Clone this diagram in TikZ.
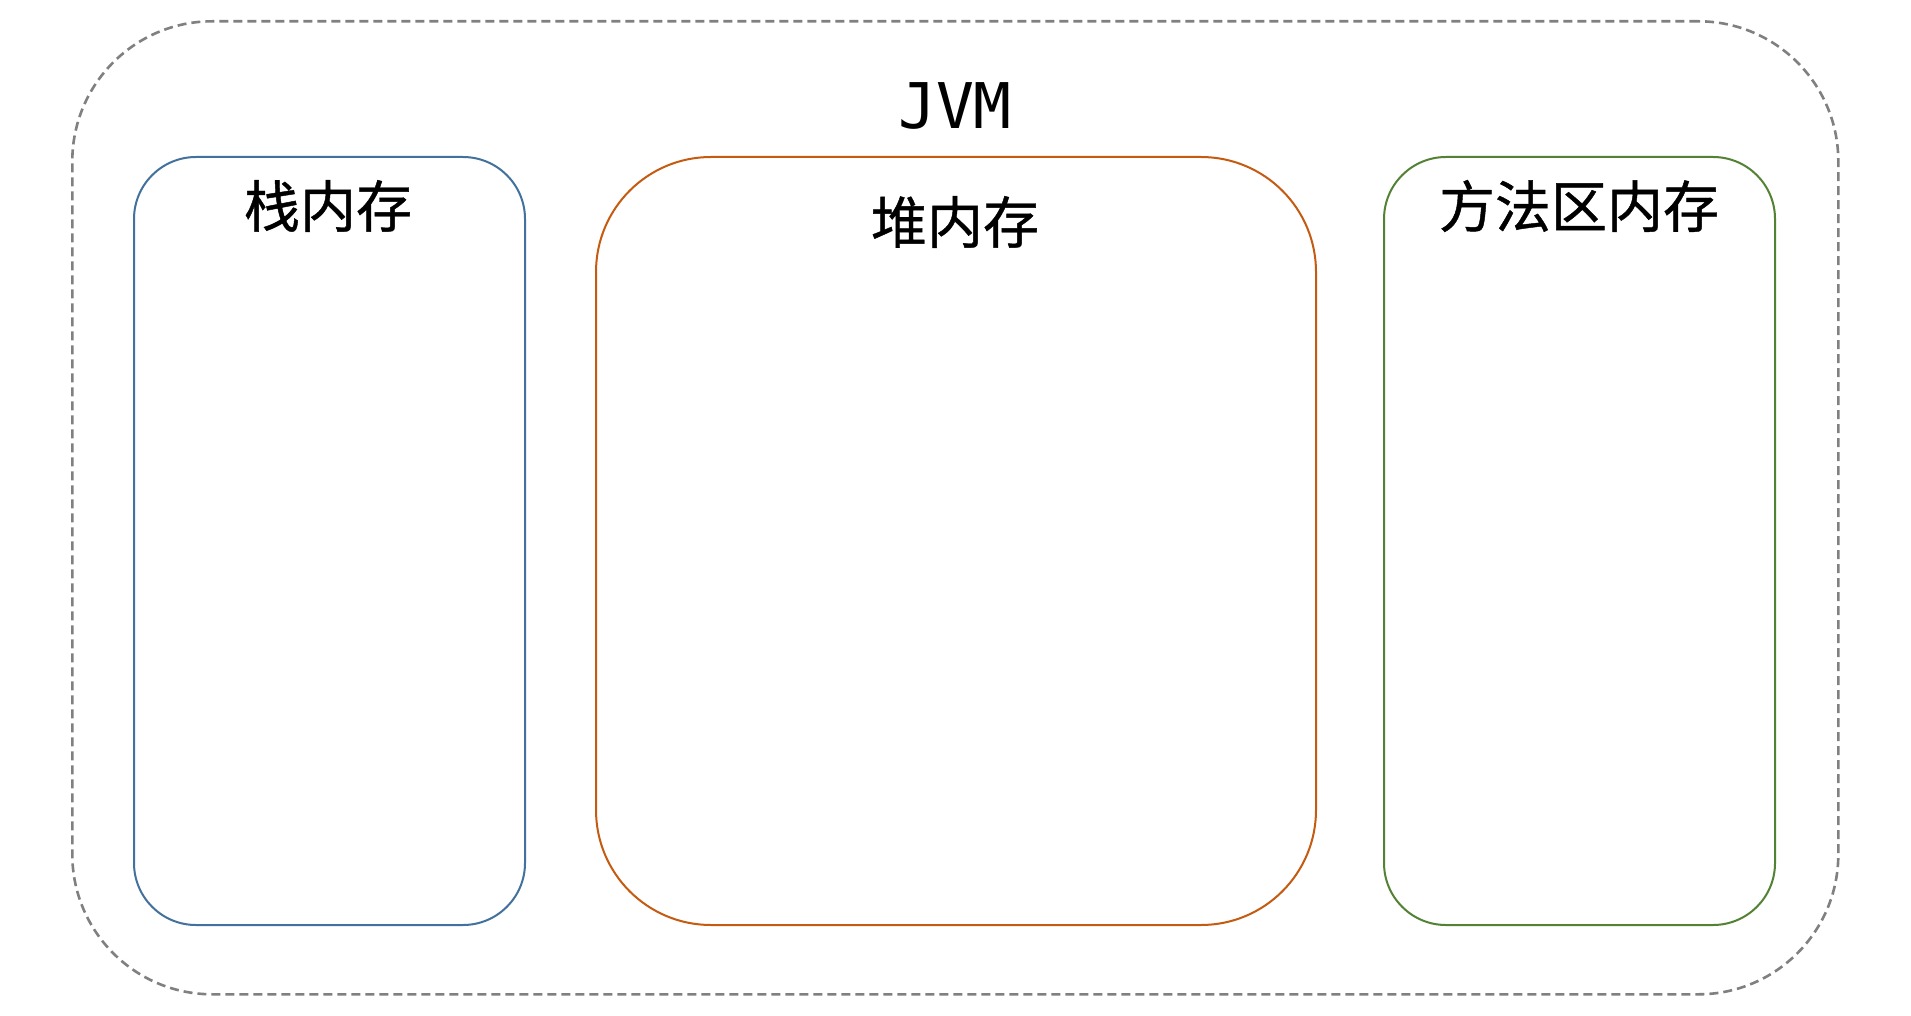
\documentclass[tikz,border=0pt]{standalone}
\usepackage{fontspec}
\newfontfamily\cjk[FakeBold=0.8]{Noto Sans CJK SC}
\newfontfamily\monof{DejaVu Sans Mono}
\definecolor{stackblue}{HTML}{41719C}
\definecolor{heaporange}{HTML}{C55A11}
\definecolor{methodgreen}{HTML}{548235}
\definecolor{outergray}{HTML}{808080}
\begin{document}
\begin{tikzpicture}[x=0.5pt,y=-0.5pt,
  region/.style={draw, line width=1pt, anchor=north west, inner sep=0pt, fill=none},
  cjklabel/.style={font=\cjk\fontsize{28pt}{32pt}\selectfont, inner sep=0pt, anchor=center}]
\useasboundingbox (0,0) rectangle (1911,1016);
\fill[white] (0,0) rectangle (1911,1016);
\node[draw=outergray, line width=1.3pt, dash pattern=on 4.5pt off 2.5pt, anchor=north west, inner sep=0pt,
  minimum width=883pt, minimum height=486.5pt, rounded corners=70pt] (jvm) at (71,20) {};
\node[region, draw=stackblue, minimum width=195.5pt, minimum height=384pt, rounded corners=31pt] (stack) at (133,156) {};
\node[region, draw=heaporange, minimum width=360pt, minimum height=384pt, rounded corners=57.5pt] (heap) at (595,156) {};
\node[region, draw=methodgreen, minimum width=195.5pt, minimum height=384pt, rounded corners=31pt] (method) at (1383,156) {};
\node[font=\monof\fontsize{31.5pt}{36pt}\selectfont, inner sep=0pt, anchor=base] (jvmlabel) at (955,128.5) {JVM};
\node[cjklabel] (stacklabel) at (328,206) {栈内存};
\node[cjklabel] (heaplabel) at (955,222) {堆内存};
\node[cjklabel] (methodlabel) at (1579,206) {方法区内存};
\end{tikzpicture}
\end{document}
